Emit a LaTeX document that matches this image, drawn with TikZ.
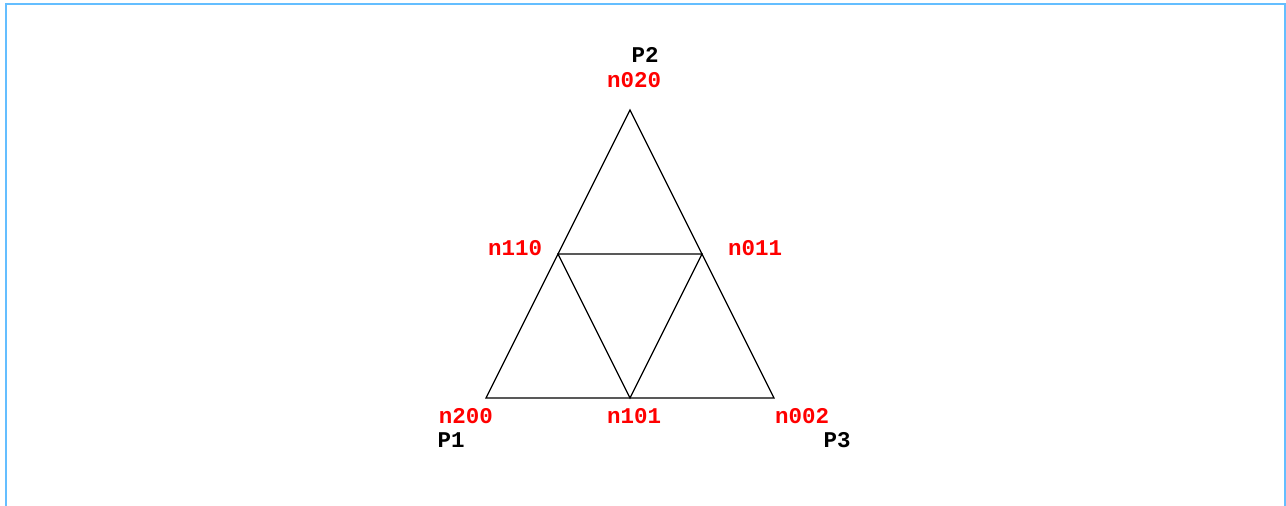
\documentclass[tikz,border=0pt]{standalone}
\usepackage{fontspec}
\setmonofont{Liberation Mono}
\usetikzlibrary{positioning}
\definecolor{framebl}{RGB}{100,190,255}

\begin{document}
\begin{tikzpicture}[
  x=1pt, y=-1pt,
  edge/.style={draw, line width=1.2pt},
  nlabel/.style={font=\fontsize{22.5}{22.5}\selectfont\ttfamily\bfseries, text=red, inner sep=0pt},
  plabel/.style={font=\fontsize{22.5}{22.5}\selectfont\ttfamily\bfseries, text=black, inner sep=0pt},
  frame/.style={draw=framebl, line width=2.2pt}
]
  \useasboundingbox (0,0) rectangle (1286,506);
  \draw[frame] (6,506) -- (6,4) -- (1285,4) -- (1285,506);

  % mesh vertices
  \coordinate (v020) at (630,110);
  \coordinate (v110) at (558,254);
  \coordinate (v011) at (702,254);
  \coordinate (v200) at (486,398);
  \coordinate (v101) at (630,398);
  \coordinate (v002) at (774,398);

  \draw[edge] (v200) -- (v002) -- (v020) -- cycle;
  \draw[edge] (v110) -- (v011) -- (v101) -- cycle;

  % node labels
  \node[nlabel] (l020) at (634,80) {n020};
  \node[nlabel] (l110) at (515,248) {n110};
  \node[nlabel] (l011) at (755,248) {n011};
  \node[nlabel] (l200) at (466,416) {n200};
  \node[nlabel] (l101) at (634,416) {n101};
  \node[nlabel] (l002) at (802,416) {n002};

  % corner points
  \node[plabel] (p2) at (645,55) {P2};
  \node[plabel] (p1) at (451,440) {P1};
  \node[plabel] (p3) at (837,440) {P3};
\end{tikzpicture}
\end{document}
